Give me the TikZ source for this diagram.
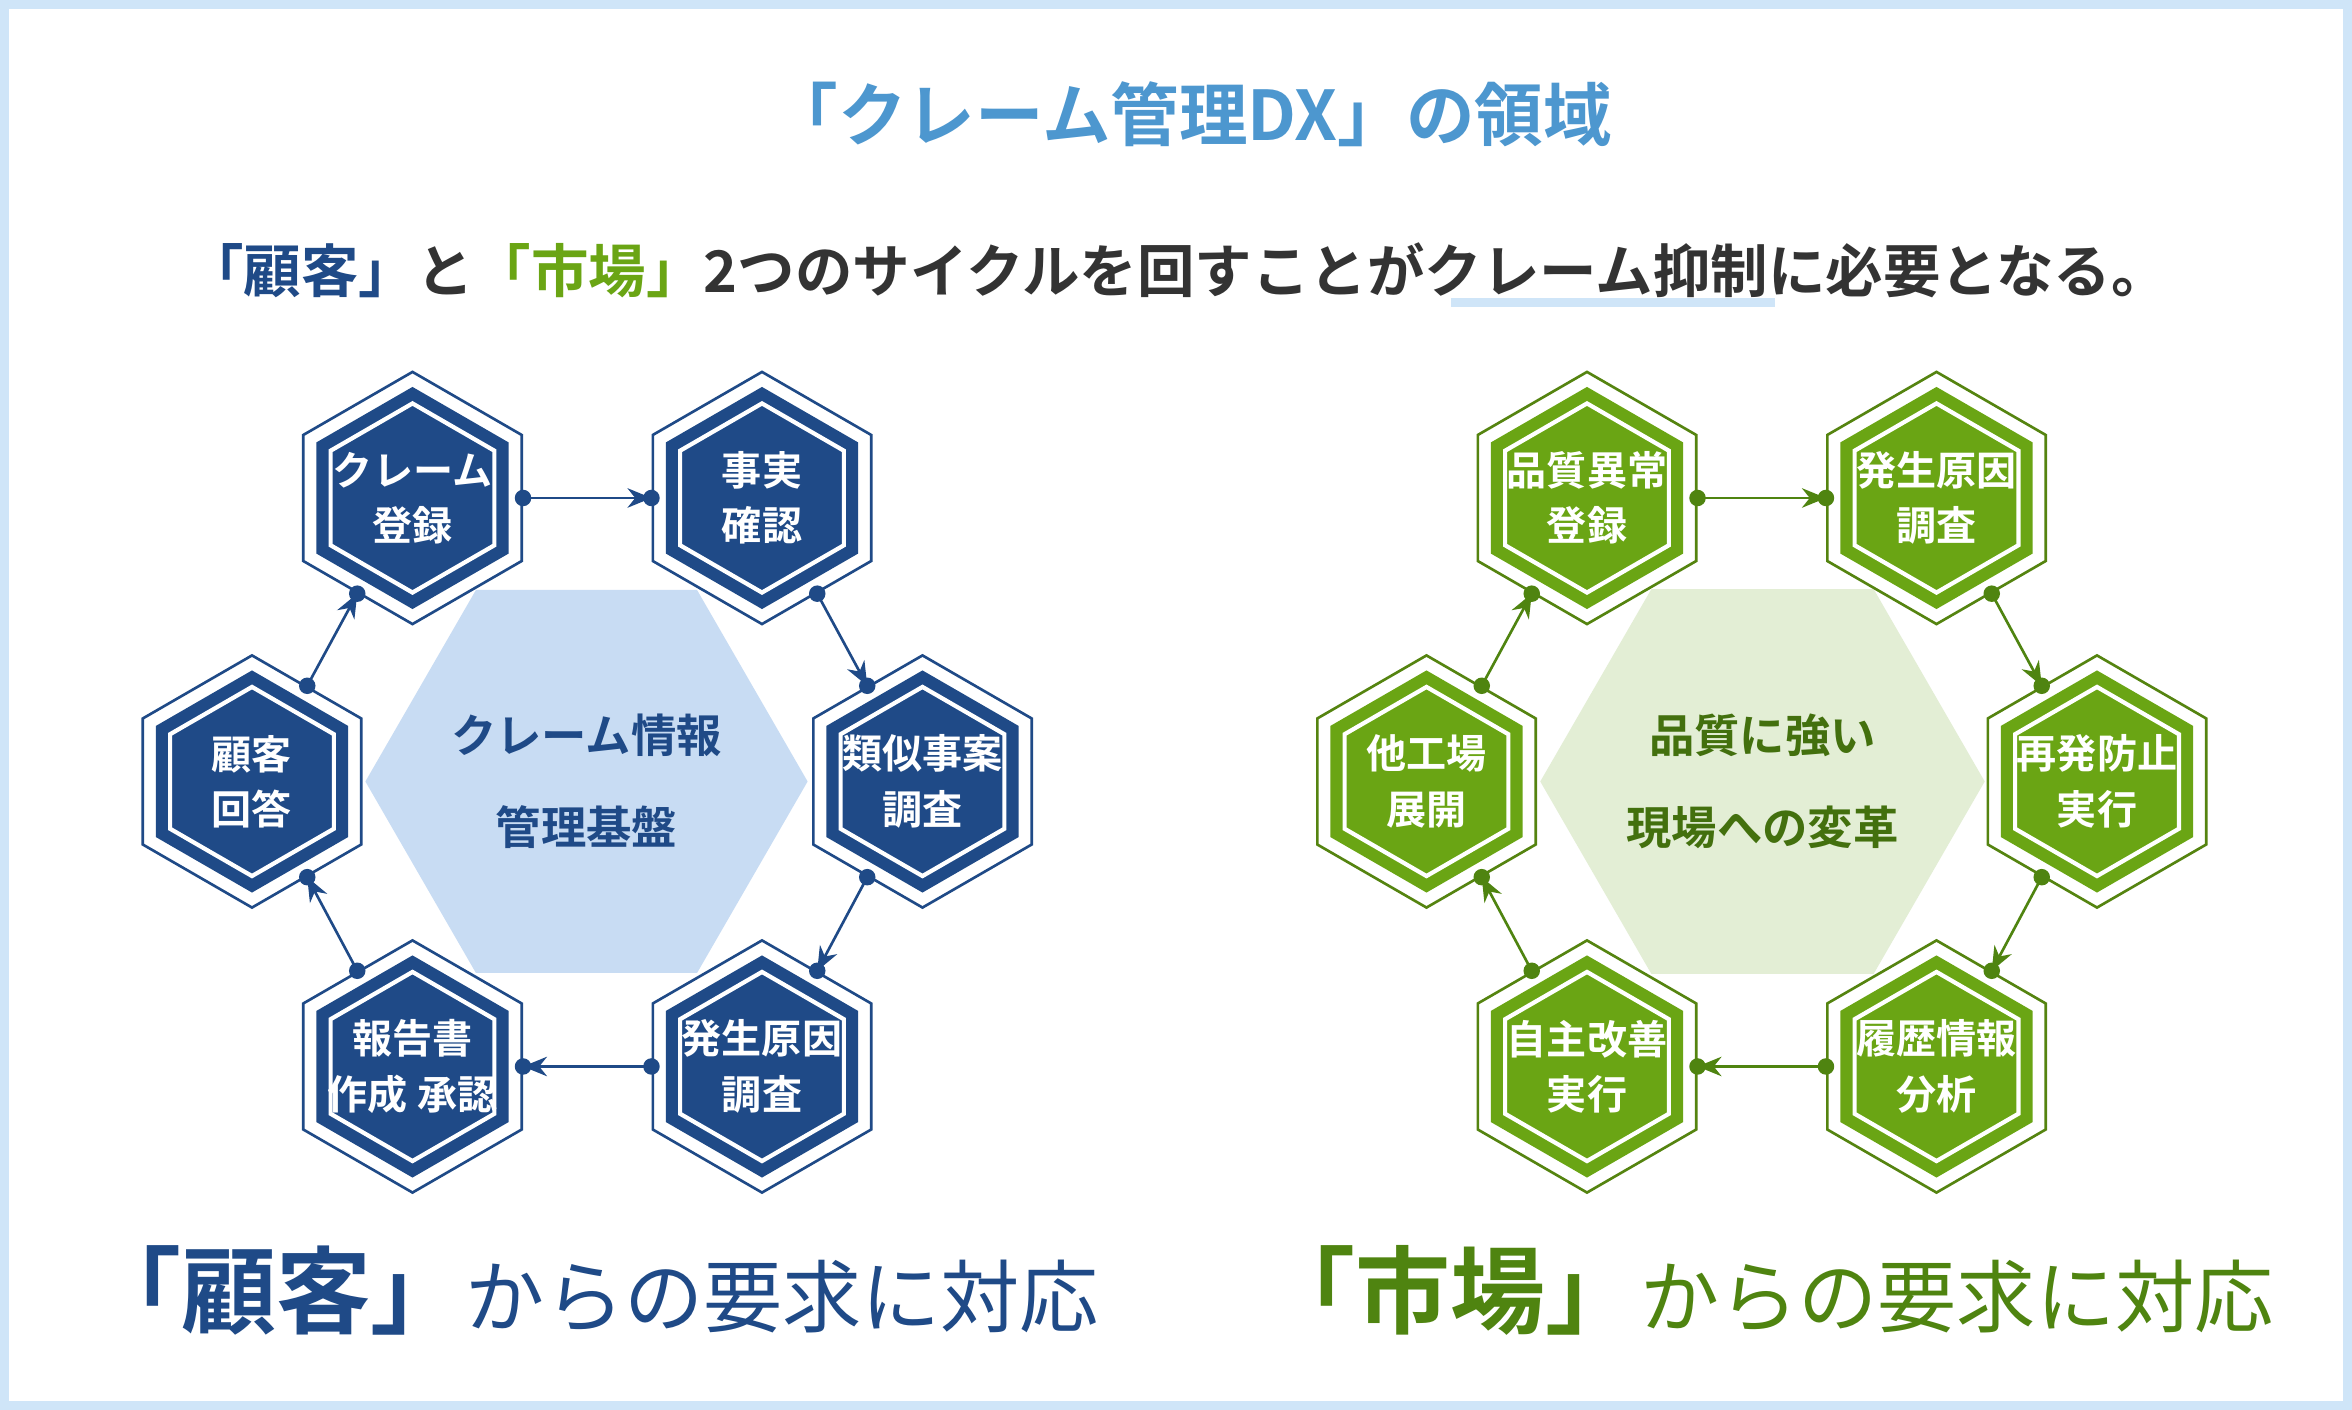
\documentclass[tikz,border=0pt]{standalone}
\usepackage{fontspec}
\setmainfont{Noto Sans CJK JP}[BoldFont={Noto Sans CJK JP Bold}]
\usepackage{tikz}
\usetikzlibrary{shapes.geometric,arrows.meta}
\definecolor{navy}{HTML}{1F4A87}
\definecolor{leaf}{HTML}{6AA514}
\definecolor{leafdark}{HTML}{4F8410}
\definecolor{skyline}{HTML}{CFE5F8}
\definecolor{titleblue}{HTML}{4D97CF}
\definecolor{paleblue}{HTML}{C8DCF3}
\definecolor{paleleaf}{HTML}{E3EED5}
\tikzset{
  hexout/.style={regular polygon,regular polygon sides=6,shape border rotate=30,minimum size=1.68cm,inner sep=0,draw=#1,fill=white,line width=0.5pt},
  hexmid/.style={regular polygon,regular polygon sides=6,shape border rotate=30,minimum size=1.48cm,inner sep=0,fill=#1},
  hexin/.style={regular polygon,regular polygon sides=6,shape border rotate=30,minimum size=1.26cm,inner sep=0,draw=white,line width=0.8pt,fill=#1},
  hexlabel/.style={text=white,font=\fontsize{7.6}{10.5}\selectfont\bfseries,align=center,inner sep=0},
  flow/.style={draw=#1,line width=0.5pt,-{Stealth[length=1.6mm,width=1.3mm]}},
  pin/.style={fill=#1,circle,inner sep=0,minimum size=1.1mm}
}
\begin{document}
\begin{tikzpicture}[x=0.01cm,y=-0.01cm]
  \useasboundingbox (0,0) rectangle (1568,940);
  \fill[white] (0,0) rectangle (1568,940);
  \draw[skyline,line width=0.06cm] (3,3) rectangle (1565,937); %frame%

  \node[text=titleblue,font=\fontsize{13}{15}\selectfont\bfseries] (title) at (794,76) {「クレーム管理DX」の領域};
  \fill[skyline] (967,199) rectangle (1183,205);
  \node[font=\fontsize{10.9}{13}\selectfont\bfseries,text=black!80] (lead) at (785,180)
    {\textcolor{navy}{「顧客」}と\textcolor{leaf}{「市場」}2つのサイクルを回すことがクレーム抑制に必要となる。};

  % center hexagons
  \node[regular polygon,regular polygon sides=6,minimum size=2.5cm,inner sep=0,fill=paleblue,text=navy,
        font=\fontsize{8.6}{17.5}\selectfont\bfseries,align=center] (hubL) at (391,521) {クレーム情報\\管理基盤};
  \node[regular polygon,regular polygon sides=6,minimum size=2.5cm,inner sep=0,fill=paleleaf,text=leafdark!85!black,
        font=\fontsize{8.6}{17.5}\selectfont\bfseries,align=center] (hubR) at (1175,521) {品質に強い\\現場への変革};

  % customer cycle
  \foreach \n/\x/\y/\t in {cA/275/332/{クレーム\\登録},cB/508/332/{事実\\確認},cC/615/521/{類似事案\\調査},
                           cD/508/711/{発生原因\\調査},cE/275/711/{報告書\\作成 承認},cF/168/521/{顧客\\回答}}{
    \node[hexout=navy] (\n) at (\x,\y) {};
    \node[hexmid=navy] at (\x,\y) {};
    \node[hexin=navy] at (\x,\y) {};
    \node[hexlabel] (\n-txt) at (\x,\y) {\t};
  }
  % market cycle
  \foreach \n/\x/\y/\t in {mA/1058/332/{品質異常\\登録},mB/1291/332/{発生原因\\調査},mC/1398/521/{再発防止\\実行},
                           mD/1291/711/{履歴情報\\分析},mE/1058/711/{自主改善\\実行},mF/951/521/{他工場\\展開}}{
    \node[hexout=leaf!80!black] (\n) at (\x,\y) {};
    \node[hexmid=leaf] at (\x,\y) {};
    \node[hexin=leaf] at (\x,\y) {};
    \node[hexlabel] (\n-txt) at (\x,\y) {\t};
  }

  \foreach \p/\c in {c/navy,m/leafdark}{
    \foreach \a/\b/\o/\i in {A/B/0/180,B/C/-60/120,C/D/-120/60,D/E/180/0,E/F/120/-60,F/A/60/-120}{
      \draw[flow=\c] (\p\a.\o) -- (\p\b.\i);
      \node[pin=\c] at (\p\a.\o) {};
      \node[pin=\c] at (\p\b.\i) {};
    }
  }

  \node[text=navy,font=\bfseries] (footL) at (395,860)
    {{\fontsize{18}{20}\selectfont 「顧客」}{\fontsize{15}{18}\selectfont\mdseries からの要求に対応}};
  \node[text=leafdark,font=\bfseries] (footR) at (1178,860)
    {{\fontsize{18}{20}\selectfont 「市場」}{\fontsize{15}{18}\selectfont\mdseries からの要求に対応}};
\end{tikzpicture}
\end{document}
